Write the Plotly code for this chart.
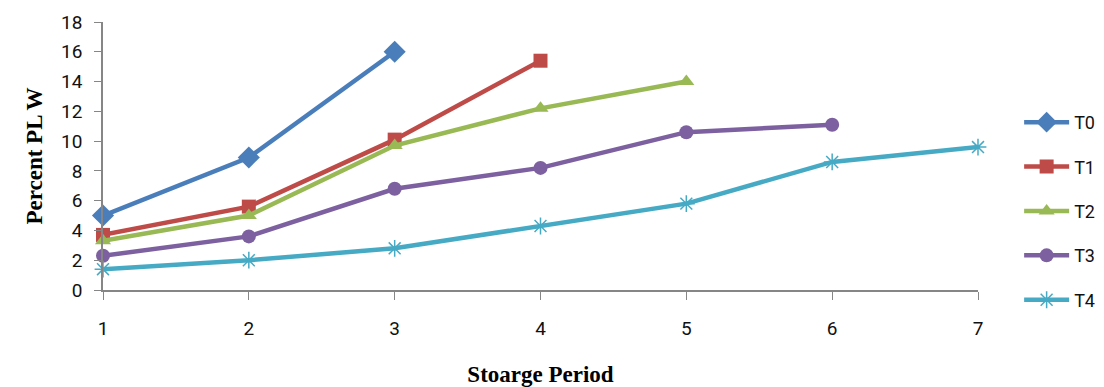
import plotly.graph_objects as go

# Storage period (x) and percent physiological loss in weight per treatment
periods = [1, 2, 3, 4, 5, 6, 7]
series_names = ["T0", "T1", "T2", "T3", "T4"]
t0 = [5.0, 8.9, 16.0]
t1 = [3.7, 5.6, 10.1, 15.4]
t2 = [3.3, 5.0, 9.7, 12.2, 14.0]
t3 = [2.3, 3.6, 6.8, 8.2, 10.6, 11.1]
t4 = [1.4, 2.0, 2.8, 4.3, 5.8, 8.6, 9.6]
y_ticks = list(range(0, 19, 2))

values = [t0, t1, t2, t3, t4]
colors = ["#4A7EBB", "#BE4B48", "#98B954", "#7D60A0", "#46AAC5"]
symbols = ["diamond", "square", "triangle-up", "circle", "asterisk-open"]
sizes = [17, 14, 14, 14, 14]

fig = go.Figure()
for name, vals, col, sym, sz in zip(series_names, values, colors, symbols, sizes):
    marker = dict(symbol=sym, size=sz, color=col)
    if sym == "asterisk-open":
        marker["line"] = dict(color=col, width=1.5)
    fig.add_trace(go.Scatter(
        x=periods[:len(vals)], y=vals, name=name, mode="lines+markers",
        line=dict(color=col, width=4.5), marker=marker, legendgroup=name,
        cliponaxis=False,
    ))

tick_font = dict(family="Roboto, Open Sans, sans-serif", size=19, color="#111111")
title_font = dict(family="Liberation Serif, Times New Roman, serif", size=23, color="#000000")

fig.update_layout(
    width=1104, height=387,
    margin=dict(l=103, r=126, t=22, b=97, autoexpand=False),
    paper_bgcolor="white", plot_bgcolor="white",
    showlegend=True,
    legend=dict(
        x=1.047, xanchor="left", y=0.295, yanchor="middle",
        font=dict(family="Roboto, Open Sans, sans-serif", size=18, color="#111111"),
        tracegroupgap=18, itemwidth=45, bgcolor="rgba(0,0,0,0)",
    ),
    xaxis=dict(
        range=[1, 7], tickvals=periods, ticks="outside", ticklen=8, tickcolor="#868686",
        showline=True, linecolor="#868686", linewidth=1.5, showgrid=False, zeroline=False,
        tickfont=tick_font, ticklabelstandoff=12,
        title=dict(text="<b>Stoarge Period</b>", font=title_font, standoff=29),
    ),
    yaxis=dict(
        range=[0, 18], tickvals=y_ticks, ticks="outside", ticklen=7, tickcolor="#868686",
        showline=True, linecolor="#868686", linewidth=1.5, showgrid=False, zeroline=False,
        tickfont=tick_font, ticklabelstandoff=8,
        title=dict(text="<b>Percent PL W</b>", font=title_font, standoff=12),
    ),
)

fig.write_html("out.html")
